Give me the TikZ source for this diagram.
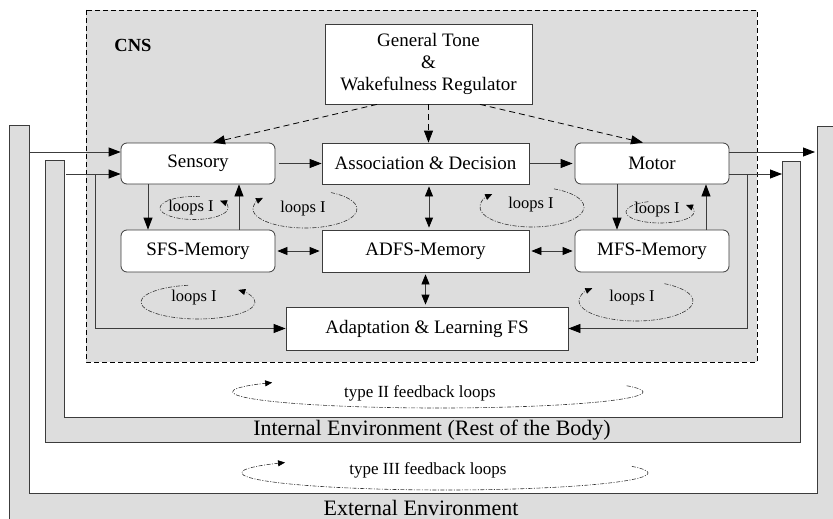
\documentclass[tikz,border=0pt]{standalone}
\usepackage{fontspec}
\setmainfont{Liberation Serif}
\usetikzlibrary{arrows.meta}
\definecolor{envgray}{RGB}{221,221,221}
\definecolor{edgegray}{RGB}{60,60,60}
\begin{document}
\begin{tikzpicture}[x=1pt,y=1pt,
  boxfont/.style={font=\fontsize{19}{22}\selectfont},
  plainbox/.style={draw=edgegray, fill=white, line width=0.8pt, inner sep=0pt, boxfont},
  roundbox/.style={plainbox, rounded corners=6pt},
  bigtip/.tip={Triangle[length=12pt,width=9pt,color=black]},
  midtip/.tip={Triangle[length=10pt,width=8pt,color=black]},
  arr/.style={draw=edgegray, line width=0.8pt, -bigtip},
  darr/.style={draw=edgegray, line width=0.8pt, midtip-midtip},
  dasharr/.style={arr, draw=black, dash pattern=on 6pt off 4pt},
  loopline/.style={draw=black!80, line width=0.6pt, dash pattern=on 4pt off 1.5pt on 1pt off 1.5pt,
    -{Triangle[length=7pt,width=6pt,color=black]}},
  looptext/.style={inner sep=0pt, font=\fontsize{16.5}{18}\selectfont},
  envshape/.style={fill=envgray, draw=edgegray, line width=0.8pt},
  envtext/.style={inner sep=0pt, font=\fontsize{22}{24}\selectfont}]
\useasboundingbox (0,0) rectangle (833,-519);
\clip (0,0) rectangle (833,-519);

% environments
\path[envshape] (9,-125) -- (29,-125) -- (29,-493) -- (817,-493) -- (817,-126)
  -- (845,-126) -- (845,-530) -- (9,-530) -- cycle;
\path[envshape] (45,-160) -- (64,-160) -- (64,-417) -- (782,-417) -- (782,-161)
  -- (800,-161) -- (800,-442) -- (45,-442) -- cycle;
\node[envtext] (intenv) at (432,-430) {Internal Environment (Rest of the Body)};
\node[envtext] (extenv) at (421,-508) {External Environment};

% central nervous system
\path[fill=envgray, draw=black, line width=0.7pt, dash pattern=on 5pt off 3pt] (86,-10) rectangle (757,-362);
\node[inner sep=0pt, font=\fontsize{18.5}{20}\selectfont\bfseries] (cns) at (133,-45) {CNS};

\node[plainbox, minimum width=207pt, minimum height=80pt, align=center] (gen) at (428.5,-64)
  {General Tone\\\&\\Wakefulness Regulator};
\node[roundbox, minimum width=154pt, minimum height=41pt] (sens) at (198,-163.5) {Sensory};
\node[plainbox, minimum width=207pt, minimum height=41pt] (assoc) at (425.5,-163.5) {Association \& Decision};
\node[roundbox, minimum width=154pt, minimum height=41pt] (motor) at (652,-163.5) {Motor};
\node[roundbox, minimum width=154pt, minimum height=42pt] (sfs) at (198,-251) {SFS-Memory};
\node[plainbox, minimum width=207pt, minimum height=42pt] (adfs) at (425.5,-251) {ADFS-Memory};
\node[roundbox, minimum width=154pt, minimum height=42pt] (mfs) at (652,-251) {MFS-Memory};
\node[plainbox, minimum width=282pt, minimum height=43pt] (adapt) at (427,-328.5) {Adaptation \& Learning FS};

% regulator influence
\draw[dasharr] ([xshift=-51.5pt]gen.south) -- ([xshift=15pt]sens.north);
\draw[dasharr] (gen.south) -- (gen.south |- assoc.north);
\draw[dasharr] ([xshift=51.5pt]gen.south) -- ([xshift=-9pt]motor.north);

% main flow
\draw[arr, shorten <=4pt] (sens.east) -- (assoc.west);
\draw[arr, shorten <=1pt, shorten >=2pt] (assoc.east) -- (motor.west);
\draw[arr] ([xshift=-50pt]sens.south) -- ([xshift=-50pt]sfs.north);
\draw[arr] ([xshift=41pt]sfs.north) -- ([xshift=41pt]sens.south);
\draw[arr] ([xshift=-35pt]motor.south) -- ([xshift=-35pt]mfs.north);
\draw[arr] ([xshift=54pt]mfs.north) -- ([xshift=54pt]motor.south);
\draw[darr, shorten <=2pt, shorten >=2pt] (sfs.east) -- (adfs.west);
\draw[darr, shorten <=2pt, shorten >=2pt] (adfs.east) -- (mfs.west);
\draw[darr, shorten <=2pt, shorten >=2pt] ([xshift=3.5pt]assoc.south) -- ([xshift=3.5pt]adfs.north);
\draw[darr, shorten <=2pt, shorten >=2pt] (adfs.south) -- (adfs.south |- adapt.north);

% inputs and outputs
\coordinate (extl) at (29,-152);
\coordinate (intl) at (66,-174);
\coordinate (brl) at (95,-174);
\coordinate (extr) at (815,-152);
\coordinate (intr) at (782,-174);
\coordinate (brr) at (747,-174);
\draw[arr] (extl) -- (extl -| sens.west);
\draw[arr] (intl) -- (intl -| sens.west);
\draw[arr] (brl) |- (adapt.west);
\draw[arr] (extr -| motor.east) -- (extr);
\draw[arr] (intr -| motor.east) -- (intr);
\draw[arr] (brr) |- (adapt.east);

% type I loops
\node[looptext] (l1) at (191,-208) {loops I};
\node[looptext] (l2) at (303,-209) {loops I};
\node[looptext] (l3) at (194,-298) {loops I};
\node[looptext] (l4) at (531,-205) {loops I};
\node[looptext] (l5) at (657,-210) {loops I};
\node[looptext] (l6) at (632,-298) {loops I};
\draw[loopline] (194,-208) ++(80:34 and 11.5) arc[start angle=80, end angle=400, x radius=34, y radius=11.5];
\draw[loopline] (305,-209) ++(60:52 and 19) arc[start angle=60, end angle=-216, x radius=52, y radius=19];
\draw[loopline] (198,-302) ++(100:57 and 17) arc[start angle=100, end angle=405, x radius=57, y radius=17];
\draw[loopline] (532,-207) ++(65:52 and 20) arc[start angle=65, end angle=-220, x radius=52, y radius=20];
\draw[loopline] (660,-212) ++(110:34 and 11) arc[start angle=110, end angle=400, x radius=34, y radius=11];
\draw[loopline] (636,-301) ++(60:57 and 20) arc[start angle=60, end angle=-220, x radius=57, y radius=20];

% type II and III loops
\node[inner sep=0pt, font=\fontsize{17}{19}\selectfont] (t2) at (420,-393) {type II feedback loops};
\node[inner sep=0pt, font=\fontsize{17}{19}\selectfont] (t3) at (428,-470) {type III feedback loops};
\draw[loopline] (438,-392) ++(23:205 and 16) arc[start angle=23, end angle=-216, x radius=205, y radius=16];
\draw[loopline] (445,-473) ++(23:203 and 17) arc[start angle=23, end angle=-218, x radius=203, y radius=17];
\end{tikzpicture}
\end{document}
